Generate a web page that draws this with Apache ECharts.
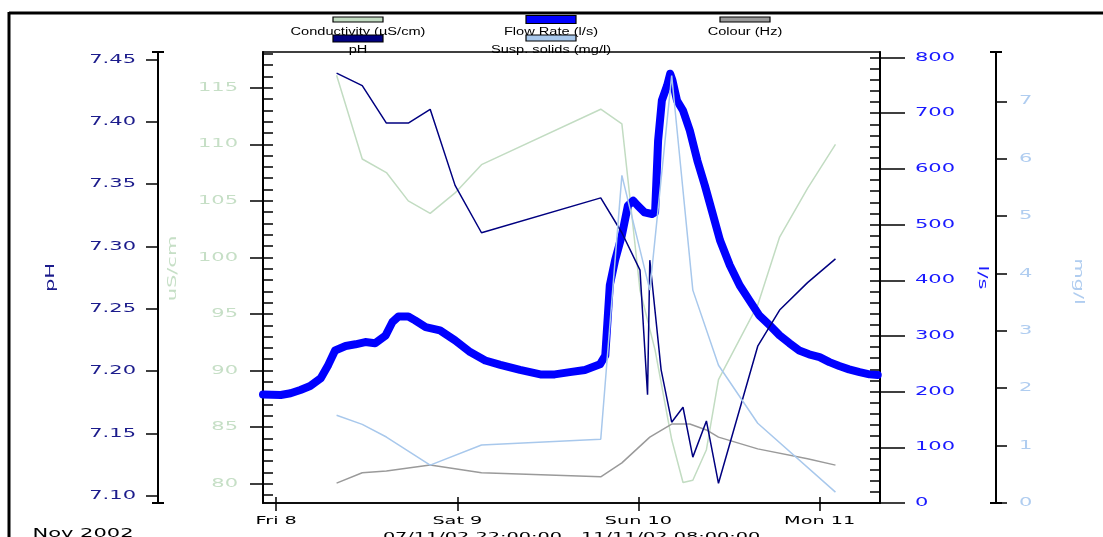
<!DOCTYPE html>
<html><head><meta charset="utf-8">
<script src="https://cdn.jsdelivr.net/npm/echarts@6/dist/echarts.min.js"></script>
<style>html,body{margin:0;padding:0;background:#fff}#c{width:1103px;height:537px}</style>
</head><body><div id="c"></div>
<script>
// ---- data (hours since Fri 8 Nov 2002 00:00) ----
const dayTicks = [0, 24, 48, 72];
const dayLabels = ['Fri 8', 'Sat 9', 'Sun 10', 'Mon 11'];
const phTicks = [7.10, 7.15, 7.20, 7.25, 7.30, 7.35, 7.40, 7.45];
const condTicks = [80, 85, 90, 95, 100, 105, 110, 115];
const flowTicks = [0, 100, 200, 300, 400, 500, 600, 700, 800];
const suspTicks = [0, 1, 2, 3, 4, 5, 6, 7];

const flowHours = [-1.75,0.6,1.9,3.2,4.5,5.9,6.9,7.8,9.2,10.5,11.8,13.1,14.5,15.4,16.2,17.5,18.4,19.8,21.7,23.7,25.7,27.7,29.7,32.3,35.0,36.9,38.9,40.9,42.9,43.6,44.2,44.9,45.8,46.6,47.3,47.9,48.8,49.8,50.2,50.6,51.1,51.8,52.2,52.5,53.1,53.9,54.8,55.8,56.8,57.7,58.8,60.1,61.4,62.7,64.0,65.4,66.7,68.0,69.3,70.6,72.0,73.3,74.6,75.9,77.3,78.6,79.7];
const flowValues = [195,194,197,203,210,224,248,274,282,285,289,287,301,325,335,335,328,316,310,292,271,256,248,239,231,231,235,239,249,265,391,436,481,534,543,534,522,519,522,651,723,750,771,759,723,705,669,615,570,526,472,427,391,364,337,319,301,287,274,267,262,253,246,240,235,231,230];

const phHours = [8.0,11.4,14.6,17.5,20.4,23.7,27.2,43.0,45.8,48.2,49.2,49.5,51.0,52.4,53.9,55.2,57.0,58.6,63.8,66.7,70.4,74.1];
const phValues = [7.439,7.429,7.399,7.399,7.410,7.349,7.311,7.339,7.311,7.281,7.181,7.289,7.201,7.159,7.171,7.131,7.160,7.110,7.220,7.249,7.271,7.290];

const condHours = [8.0,11.4,14.6,17.5,20.4,23.7,27.2,43.0,45.8,48.2,50.2,52.4,53.9,55.2,57.0,58.6,63.8,66.7,70.4,74.1];
const condValues = [116.1,108.7,107.5,105.0,103.9,105.7,108.2,113.1,111.8,97.1,91.8,83.9,80.1,80.3,83.0,89.2,95.8,101.8,106.1,110.0];

const colourHours = [8.0,11.4,14.6,20.4,27.2,43.0,45.8,49.5,52.4,54.8,57.0,58.6,63.8,70.4,74.1];
const colourValues = [4.4,6.7,7.1,8.4,6.7,5.8,8.9,14.6,17.5,17.5,16.2,14.6,12.0,9.8,8.4];

const suspHours = [8.0,11.4,14.6,20.4,27.2,43.0,45.8,49.5,52.4,55.2,58.6,63.8,74.1];
const suspValues = [1.53,1.37,1.15,0.66,1.01,1.11,5.71,3.71,7.45,3.71,2.40,1.39,0.19];

const names = ['Conductivity (µS/cm)', 'Flow Rate (l/s)', 'Colour (Hz)', 'pH', 'Susp. solids (mg/l)'];
const colors = ['#c2dcc2', '#0000ff', '#9a9a9a', '#000080', '#a8c8ec'];

// The reference uses a very wide typeface: widen glyphs along the reading direction.
(function () {
  const P = CanvasRenderingContext2D.prototype;
  const of = P.fillText, os = P.strokeText;
  function factor(font) { if (/DejaVu/.test(font)) return 1.75; if (/Liberation/.test(font)) return 1.46; return 1; }
  function wrap(orig) {
    return function (t, x, y, m) {
      const s = factor(this.font);
      if (s === 1) return m === undefined ? orig.call(this, t, x, y) : orig.call(this, t, x, y, m);
      this.save(); this.translate(x, y); this.scale(s, 1);
      if (m === undefined) orig.call(this, t, 0, 0); else orig.call(this, t, 0, 0, m);
      this.restore();
    };
  }
  P.fillText = wrap(of); P.strokeText = wrap(os);
})();

const pair = (h, v) => h.map((x, i) => [x, v[i]]);
const range = (a, b, s) => { const r = []; for (let v = a; v <= b + 1e-9; v += s) r.push(+v.toFixed(4)); return r; };

const FONT = 'DejaVu Sans';
const chart = echarts.init(document.getElementById('c'));

function legendItem(cx, swTop, swH, color, label, textTop) {
  return [
    { type: 'rect', shape: { x: cx - 25, y: swTop, width: 50, height: swH }, style: { fill: color, stroke: '#000', lineWidth: 1.2 }, z: 10 },
    { type: 'text', x: cx, y: textTop, style: { text: label, x: 0, y: 0, textAlign: 'center', textVerticalAlign: 'top', font: '10px "Liberation Sans"', fill: '#000' }, z: 10 }
  ];
}

const option = {
  animation: false,
  backgroundColor: '#fff',
  grid: { left: 263, right: 223, top: 52, bottom: 34, show: true, borderColor: '#000', borderWidth: 1.5, containLabel: false, outerBoundsMode: 'none' },
  xAxis: [
    {
      type: 'value', min: -1.75, max: 80, position: 'bottom',
      axisLine: { show: true, onZero: false, lineStyle: { color: '#000', width: 1.5 } },
      axisTick: { show: true, customValues: dayTicks, inside: false, length: 8, lineStyle: { color: '#000', width: 1.5 } },
      axisLabel: { show: true, customValues: dayTicks, margin: 13, color: '#000', fontFamily: FONT, fontSize: 11,
        formatter: v => dayLabels[dayTicks.indexOf(Math.round(v))] || '' },
      splitLine: { show: false },
      name: '07/11/02 22:00:00 - 11/11/02 08:00:00', nameLocation: 'middle', nameGap: 26,
      nameTextStyle: { color: '#000', fontFamily: FONT, fontSize: 11 }
    },
    {
      type: 'value', min: -1.75, max: 80, position: 'bottom',
      axisLine: { show: false, onZero: false },
      axisTick: { show: true, customValues: dayTicks, inside: true, length: 6, lineStyle: { color: '#000', width: 1.5 } },
      axisLabel: { show: false }, splitLine: { show: false }
    }
  ],
  yAxis: [
    { // 0 pH
      type: 'value', position: 'left', offset: 105, min: 7.0942, max: 7.456,
      axisLine: { show: true, onZero: false, lineStyle: { color: '#000', width: 2 }, symbol: ['rect', 'rect'], symbolSize: [12, 2] },
      axisTick: { show: true, customValues: phTicks, length: 12, lineStyle: { color: '#000', width: 1.5 } },
      axisLabel: { customValues: phTicks, margin: 22, color: '#1c1c8c', fontFamily: FONT, fontSize: 12, formatter: v => v.toFixed(2) },
      splitLine: { show: false },
      name: 'pH', nameLocation: 'middle', nameRotate: 90, nameGap: 101,
      nameTextStyle: { color: '#1c1c8c', fontFamily: FONT, fontSize: 12 }
    },
    { // 1 conductivity
      type: 'value', position: 'left', offset: 0, min: 78.29, max: 118.16,
      axisLine: { show: true, onZero: false, lineStyle: { color: '#000', width: 2 } },
      axisTick: { show: true, customValues: condTicks, length: 13, lineStyle: { color: '#000', width: 1.5 } },
      axisLabel: { customValues: condTicks, margin: 25, color: '#c6dfc6', fontFamily: FONT, fontSize: 12 },
      splitLine: { show: false },
      name: 'uS/cm', nameLocation: 'middle', nameRotate: 90, nameGap: 84,
      nameTextStyle: { color: '#c6dfc6', fontFamily: FONT, fontSize: 12, padding: [0, 0, 0, 18] }
    },
    { // 2 conductivity minor ticks
      type: 'value', position: 'left', offset: 0, min: 78.29, max: 118.16,
      axisLine: { show: false, onZero: false },
      axisTick: { show: true, customValues: range(79, 118, 1), inside: true, length: 10, lineStyle: { color: '#000', width: 1.5 } },
      axisLabel: { show: false }, splitLine: { show: false }
    },
    { // 3 flow
      type: 'value', position: 'right', offset: 0, min: 0, max: 810,
      axisLine: { show: true, onZero: false, lineStyle: { color: '#000', width: 2 } },
      axisTick: { show: true, customValues: flowTicks, length: 25, lineStyle: { color: '#000', width: 1.5 } },
      axisLabel: { customValues: flowTicks, margin: 35, color: '#1a1aff', fontFamily: FONT, fontSize: 12 },
      splitLine: { show: false },
      name: 'l/s', nameLocation: 'middle', nameRotate: -90, nameGap: 96,
      nameTextStyle: { color: '#1a1aff', fontFamily: FONT, fontSize: 12 }
    },
    { // 4 flow minor ticks
      type: 'value', position: 'right', offset: 0, min: 0, max: 810,
      axisLine: { show: false, onZero: false },
      axisTick: { show: true, customValues: range(0, 800, 20), inside: true, length: 10, lineStyle: { color: '#000', width: 1.5 } },
      axisLabel: { show: false }, splitLine: { show: false }
    },
    { // 5 susp
      type: 'value', position: 'right', offset: 116, min: 0, max: 7.86,
      axisLine: { show: true, onZero: false, lineStyle: { color: '#000', width: 2 }, symbol: ['rect', 'rect'], symbolSize: [12, 2] },
      axisTick: { show: true, customValues: suspTicks, length: 11, lineStyle: { color: '#000', width: 1.5 } },
      axisLabel: { customValues: suspTicks, margin: 23, color: '#b0cdf0', fontFamily: FONT, fontSize: 12 },
      splitLine: { show: false },
      name: 'mg/l', nameLocation: 'middle', nameRotate: -90, nameGap: 76,
      nameTextStyle: { color: '#b0cdf0', fontFamily: FONT, fontSize: 12, padding: [0, 0, 0, 8] }
    },
    { // 6 colour (no visible axis in the reference)
      type: 'value', show: false, min: 0, max: 100, position: 'right', axisLine: { onZero: false }
    }
  ],
  series: [
    { name: names[0], type: 'line', xAxisIndex: 0, yAxisIndex: 1, data: pair(condHours, condValues), showSymbol: false, lineStyle: { color: colors[0], width: 1.5 }, z: 2 },
    { name: names[1], type: 'line', xAxisIndex: 0, yAxisIndex: 3, data: pair(flowHours, flowValues), showSymbol: false, lineStyle: { color: colors[1], width: 8, join: 'round', cap: 'round' }, z: 3 },
    { name: names[2], type: 'line', xAxisIndex: 0, yAxisIndex: 6, data: pair(colourHours, colourValues), showSymbol: false, lineStyle: { color: colors[2], width: 1.5 }, z: 4 },
    { name: names[3], type: 'line', xAxisIndex: 0, yAxisIndex: 0, data: pair(phHours, phValues), showSymbol: false, lineStyle: { color: colors[3], width: 1.5 }, z: 5 },
    { name: names[4], type: 'line', xAxisIndex: 0, yAxisIndex: 5, data: pair(suspHours, suspValues), showSymbol: false, lineStyle: { color: colors[4], width: 1.5 }, z: 6 }
  ],
  graphic: [
    { type: 'line', shape: { x1: 9, y1: 13, x2: 1103, y2: 13 }, style: { stroke: '#000', lineWidth: 3 }, z: 10 },
    { type: 'line', shape: { x1: 9, y1: 12, x2: 9, y2: 537 }, style: { stroke: '#000', lineWidth: 3 }, z: 10 },
    ...legendItem(358, 17, 5, colors[0], names[0], 27),
    ...legendItem(551, 15.5, 8, colors[1], names[1], 27),
    ...legendItem(745, 17, 5, colors[2], names[2], 27),
    ...legendItem(358, 35, 7, colors[3], names[3], 45),
    ...legendItem(551, 35, 6, colors[4], names[4], 45),
    { type: 'text', x: 83, y: 528, style: { text: 'Nov 2002', x: 0, y: 0, textAlign: 'center', textVerticalAlign: 'top', font: '12px "DejaVu Sans"', fill: '#000' }, z: 10 }
  ]
};
chart.setOption(option);
</script></body></html>
